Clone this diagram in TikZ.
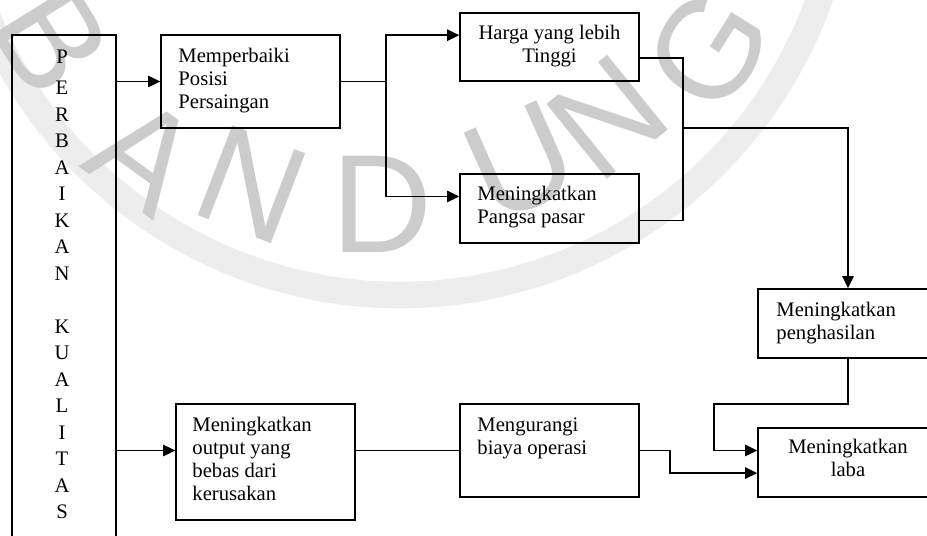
\documentclass[tikz,border=0pt]{standalone}
\usepackage{fontspec}
\setmainfont{Liberation Serif}
\newfontfamily\wmfont{Liberation Sans}
\usetikzlibrary{arrows.meta,fit,calc}

\tikzset{
  kotak/.style={draw, line width=1.25pt, inner sep=0pt},
  teks/.style={inner sep=0pt, font=\fontsize{15.5}{17.4}\selectfont},
  garis/.style={line width=1.25pt},
  panah/.style={garis, -{Triangle[length=9pt,width=8.5pt]}},
  watermark/.style={text=black!20, font=\wmfont\fontsize{105}{105}\selectfont, inner sep=0pt},
}

\begin{document}
\begin{tikzpicture}[x=0.75pt,y=0.75pt,yscale=-1,xscale=1]
\useasboundingbox (0,0) rectangle (927,535);
\clip (0,0) rectangle (927,535);

% watermark
\draw [black!7, line width=20pt] ([shift={(162:445)}]400,-150) arc [start angle=162, end angle=18, radius=445];
\node [watermark, rotate=-58] (wmB) at (52,40) {B};
\node [watermark, rotate=-36] (wmA) at (145,155) {A};
\node [watermark, rotate=-21] (wmN) at (252,185) {N};
\node [watermark] (wmD) at (382,204) {D};
\node [watermark, rotate=24] (wmU) at (520,162) {U};
\node [watermark, rotate=39] (wmNN) at (607,117) {N};
\node [watermark, rotate=58] (wmG) at (708,50) {G};

% boxes
\node [kotak, fit={(12,35) (116,560)}] (kualitas) {};
\node [kotak, fit={(161,35) (340,128)}] (memp) {};
\node [kotak, fit={(460,13) (639,81)}] (harga) {};
\node [kotak, fit={(460,174) (639,243)}] (pangsa) {};
\node [kotak, fit={(758,289) (938,358)}] (hasil) {};
\node [kotak, fit={(758,428) (938,497)}] (laba) {};
\node [kotak, fit={(176,404) (355,520)}] (output) {};
\node [kotak, fit={(460,404) (639,497)}] (biaya) {};

% vertical text
\node [teks] (huruf0) at (62,57) {P};
\foreach \h [count=\i] in {E,R,B,A,I,K,A,N,{},K,U,A,L,I,T,A,S}
  \node [teks] (huruf\i) at (62,88+26.5*\i-26.5) {\h};

% Text Node
\node [teks, anchor=north west, align=left] (tMemp) at ($(memp.north west)+(18,13.5)$) {Memperbaiki\\Posisi\\Persaingan};
\node [teks, anchor=north, align=center] (tHarga) at ($(harga.north)+(0,13)$) {Harga yang lebih\\Tinggi};
\node [teks, anchor=north west, align=left] (tPangsa) at ($(pangsa.north west)+(18,12.5)$) {Meningkatkan\\Pangsa pasar};
\node [teks, anchor=north west, align=left] (tHasil) at ($(hasil.north west)+(19,13.5)$) {Meningkatkan\\penghasilan};
\node [teks, anchor=north, align=center] (tLaba) at ($(laba.north)+(0,11.5)$) {Meningkatkan\\laba};
\node [teks, anchor=north west, align=left] (tOutput) at ($(output.north west)+(17,13.5)$) {Meningkatkan\\output yang\\bebas dari\\kerusakan};
\node [teks, anchor=north west, align=left] (tBiaya) at ($(biaya.north west)+(18,14)$) {Mengurangi\\biaya operasi};

% connectors
\coordinate (cabang) at ($(memp.east)+(45,0)$);
\coordinate (gabung) at (683,128);
\coordinate (siku) at (714,404);
\coordinate (belok) at ($(biaya.east)+(30,0)$);
\draw [panah] (kualitas.east |- memp.west) -- (memp.west);
\draw [garis] (memp.east) -- (cabang);
\draw [panah] (cabang) |- ($(harga.north west)!.33!(harga.south west)$);
\draw [panah] (cabang) |- ($(pangsa.north west)!.33!(pangsa.south west)$);
\draw [garis] ($(harga.north east)!.66!(harga.south east)$) -| (gabung);
\draw [garis] ($(pangsa.north east)!.67!(pangsa.south east)$) -| (gabung);
\draw [panah] (gabung) -| (hasil.north);
\draw [panah] (hasil.south) |- (siku) |- ($(laba.north west)!.33!(laba.south west)$);
\draw [panah] (kualitas.east |- biaya.west) -- (output.west |- biaya.west);
\draw [garis] (output.east |- biaya.west) -- (biaya.west);
\draw [panah] (biaya.east) -- (belok) |- ($(laba.north west)!.65!(laba.south west)$);

\end{tikzpicture}
\end{document}
